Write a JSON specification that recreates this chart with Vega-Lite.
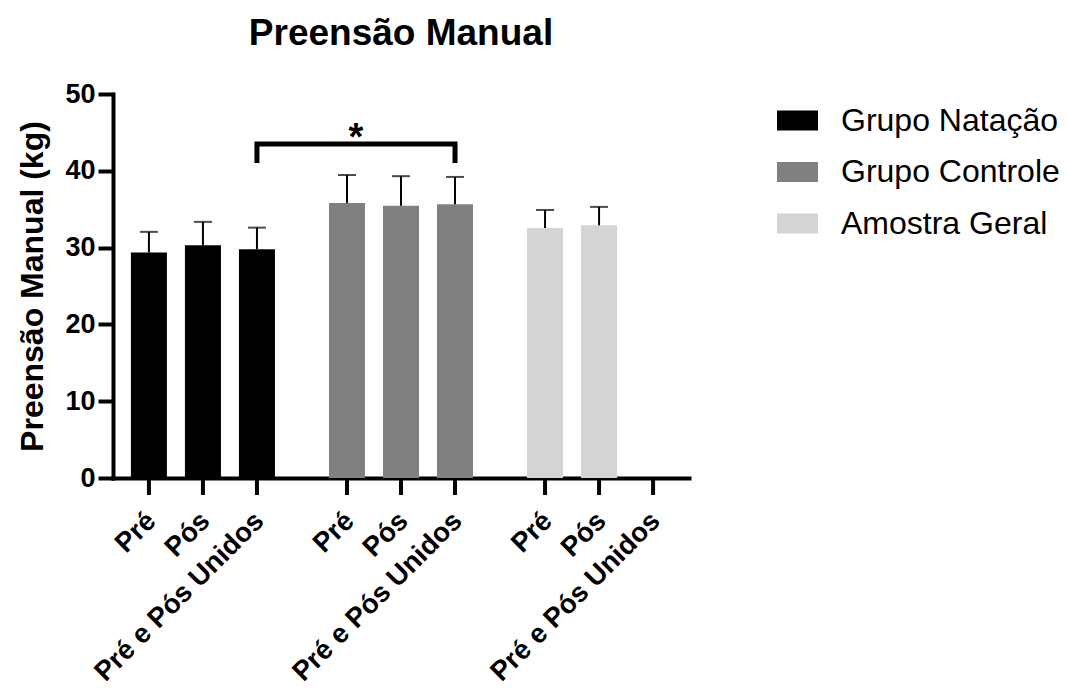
{
  "$schema": "https://vega.github.io/schema/vega-lite/v6.json",
  "width": 576,
  "height": 384,
  "padding": {"left": 16, "top": 15, "right": 5, "bottom": 0},
  "config": {
    "font": "Liberation Sans",
    "view": {"stroke": null},
    "title": {"font": "Liberation Sans"},
    "axis": {"labelFont": "Liberation Sans", "titleFont": "Liberation Sans"},
    "legend": {"labelFont": "Liberation Sans"}
  },
  "title": {"text": "Preensão Manual", "fontSize": 37, "fontWeight": "bold", "color": "black", "anchor": "middle", "offset": 27},
  "datasets": {
    "barras": [
      {"grupo": "Grupo Natação", "cond": "Pré", "media": 29.35, "erro_sup": 32.05},
      {"grupo": "Grupo Natação", "cond": "Pós", "media": 30.3, "erro_sup": 33.35},
      {"grupo": "Grupo Natação", "cond": "Pré e Pós Unidos", "media": 29.8, "erro_sup": 32.6},
      {"grupo": "Grupo Controle", "cond": "Pré", "media": 35.8, "erro_sup": 39.45},
      {"grupo": "Grupo Controle", "cond": "Pós", "media": 35.45, "erro_sup": 39.3},
      {"grupo": "Grupo Controle", "cond": "Pré e Pós Unidos", "media": 35.65, "erro_sup": 39.2},
      {"grupo": "Amostra Geral", "cond": "Pré", "media": 32.55, "erro_sup": 34.9},
      {"grupo": "Amostra Geral", "cond": "Pós", "media": 32.9, "erro_sup": 35.3},
      {"grupo": "Amostra Geral", "cond": "Pré e Pós Unidos", "media": null, "erro_sup": null}
    ],
    "colchete": [
      {"grupo": "Grupo Natação", "cond": "Pré e Pós Unidos", "y": 41.0, "ordem": 1},
      {"grupo": "Grupo Natação", "cond": "Pré e Pós Unidos", "y": 43.5, "ordem": 2},
      {"grupo": "Grupo Controle", "cond": "Pré e Pós Unidos", "y": 43.5, "ordem": 3},
      {"grupo": "Grupo Controle", "cond": "Pré e Pós Unidos", "y": 41.0, "ordem": 4}
    ],
    "signif": [
      {"grupo": "Grupo Controle", "cond": "Pré", "y": 42.7, "txt": "*"}
    ]
  },
  "data": {"name": "barras"},
  "encoding": {
    "x": {
      "field": "grupo", "type": "nominal",
      "scale": {"domain": ["Grupo Natação", "Grupo Controle", "Amostra Geral"], "paddingInner": 0.1818, "paddingOuter": 0.045},
      "axis": {"title": null, "labels": false, "ticks": false, "domainWidth": 4, "domainColor": "black", "domainCap": "square"}
    },
    "xOffset": {
      "field": "cond", "type": "nominal",
      "scale": {"domain": ["Pré", "Pós", "Pré e Pós Unidos"], "paddingInner": 0.3333, "paddingOuter": 0.1667}
    }
  },
  "layer": [
    {
      "mark": {"type": "bar"},
      "encoding": {
        "y": {
          "field": "media", "type": "quantitative",
          "scale": {"domain": [0, 50], "nice": false, "zero": true},
          "axis": {
            "title": "Preensão Manual (kg)", "titleFontSize": 32, "titleFontWeight": "bold", "titleColor": "black", "titlePadding": 15,
            "values": [0, 10, 20, 30, 40, 50], "labelFontSize": 27, "labelFontWeight": "bold", "labelColor": "black", "labelPadding": 3,
            "tickSize": 15, "tickWidth": 4, "tickColor": "black", "domainWidth": 4, "domainColor": "black", "domainCap": "square", "grid": false
          }
        },
        "color": {
          "field": "grupo", "type": "nominal",
          "scale": {"domain": ["Grupo Natação", "Grupo Controle", "Amostra Geral"], "range": ["#000000", "#808080", "#d4d4d4"]},
          "legend": {
            "title": null, "orient": "none", "legendX": 664, "legendY": 6,
            "labelFontSize": 32, "labelColor": "black", "labelOffset": 23, "labelLimit": 400,
            "symbolType": "M-1,-0.49H1V0.49H-1Z", "symbolSize": 1681, "symbolStrokeWidth": 0, "symbolOpacity": 1,
            "rowPadding": 14.5, "padding": 0
          }
        }
      }
    },
    {
      "mark": {"type": "rule", "strokeWidth": 2, "color": "black"},
      "encoding": {"y": {"field": "media", "type": "quantitative"}, "y2": {"field": "erro_sup"}}
    },
    {
      "mark": {"type": "tick", "orient": "horizontal", "size": 18, "thickness": 2, "color": "black"},
      "encoding": {"y": {"field": "erro_sup", "type": "quantitative"}}
    },
    {
      "mark": {"type": "rule", "strokeWidth": 4, "color": "black", "y2Offset": 17},
      "encoding": {"y": {"datum": 0}, "y2": {"datum": 0}}
    },
    {
      "mark": {"type": "text", "angle": 315, "align": "right", "baseline": "middle", "fontSize": 27.5, "fontWeight": "bold", "color": "black", "yOffset": 39, "dx": 2, "dy": 2},
      "encoding": {"y": {"datum": 0}, "text": {"field": "cond"}}
    },
    {
      "data": {"name": "colchete"},
      "mark": {"type": "line", "strokeWidth": 5, "color": "black", "strokeJoin": "miter", "strokeCap": "butt"},
      "encoding": {"y": {"field": "y", "type": "quantitative"}, "order": {"field": "ordem"}}
    },
    {
      "data": {"name": "signif"},
      "mark": {"type": "text", "fontSize": 38, "fontWeight": "bold", "color": "black", "baseline": "alphabetic", "dx": 9},
      "encoding": {"y": {"field": "y", "type": "quantitative"}, "text": {"field": "txt"}}
    }
  ]
}
